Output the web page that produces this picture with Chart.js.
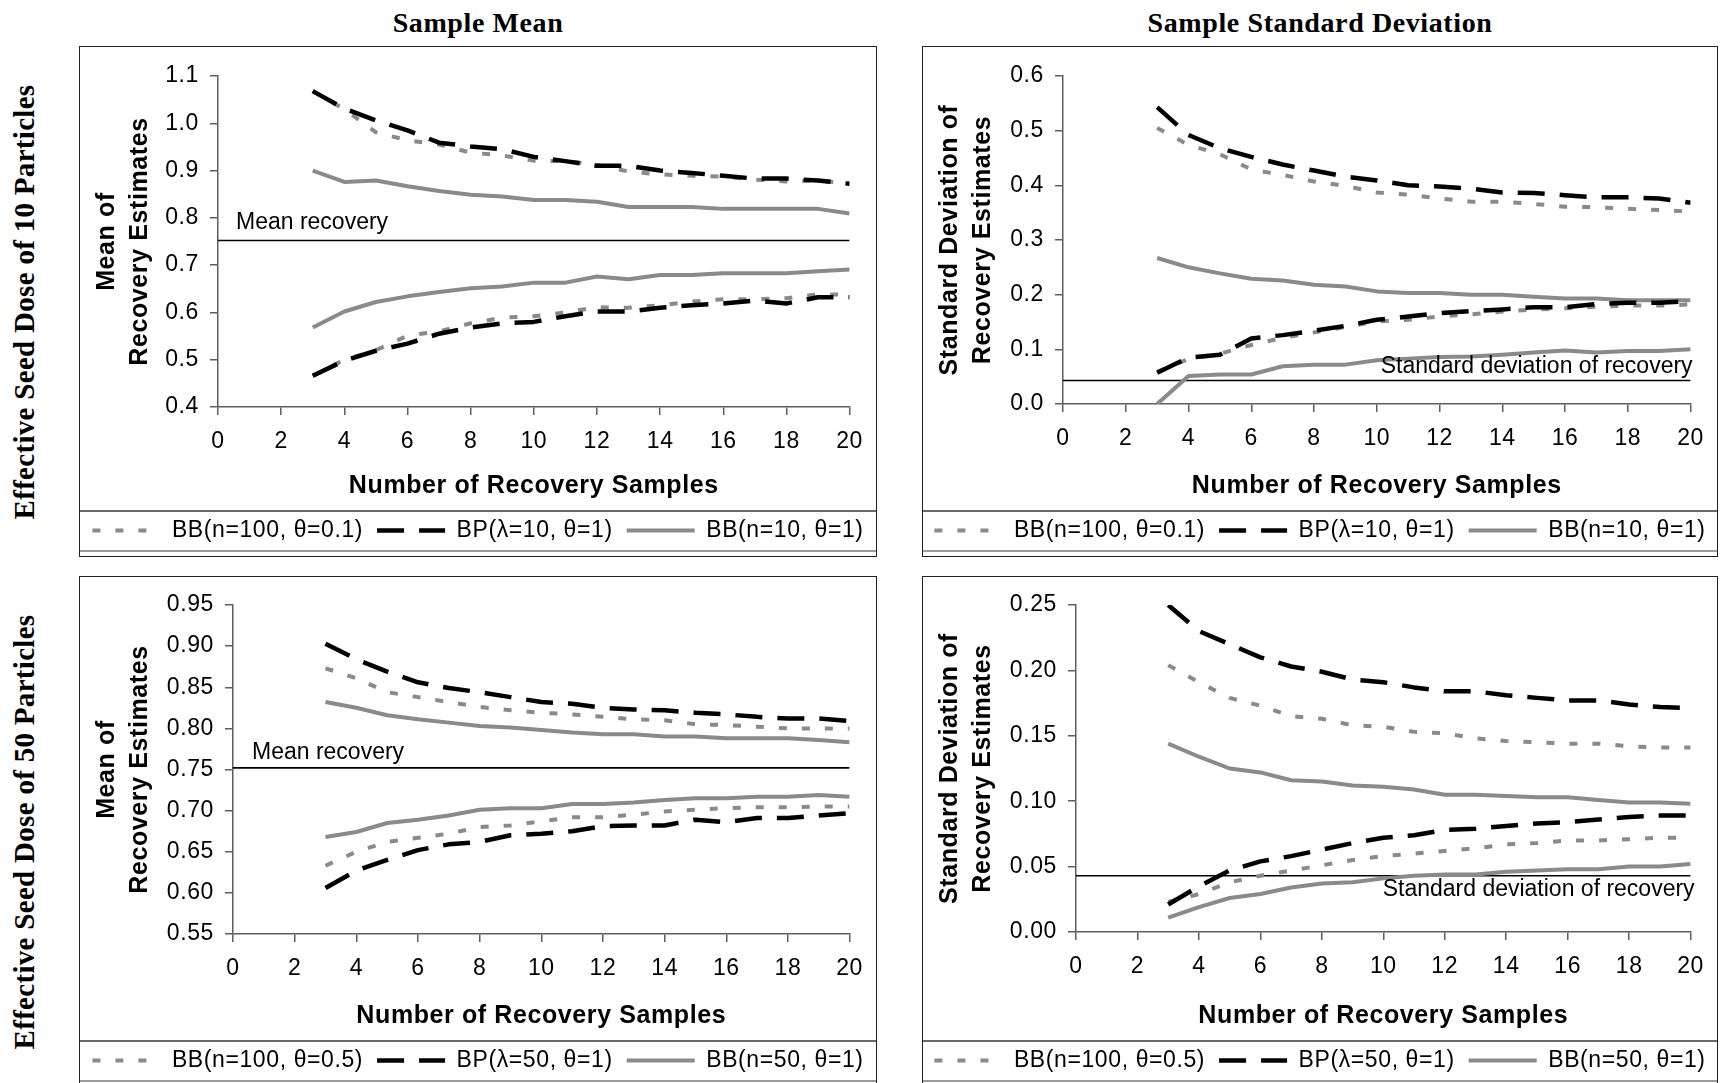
<!DOCTYPE html>
<html>
<head>
<meta charset="utf-8">
<script src="https://cdn.jsdelivr.net/npm/chart.js@4/dist/chart.umd.min.js"></script>
<style>
  html,body{margin:0;padding:0;background:#fff;}
  body{width:1723px;height:1083px;overflow:hidden;position:relative;font-family:"Liberation Sans",Arial,sans-serif;}
  .panel{position:absolute;border:1px solid #222;background:#fff;}
  .panel canvas{display:block;}
  .coltitle{position:absolute;top:7px;height:32px;line-height:32px;font:bold 28px "Liberation Serif","Times New Roman",serif;white-space:nowrap;transform:translateX(-50%);color:#000;letter-spacing:0.6px;}
  .rowtitle{position:absolute;font:bold 29px "Liberation Serif","Times New Roman",serif;white-space:nowrap;transform:translate(-50%,-50%) rotate(-90deg);color:#000;letter-spacing:0.3px;}
</style>
</head>
<body>
<div class="coltitle" style="left:478px">Sample Mean</div>
<div class="coltitle" style="left:1320px">Sample Standard Deviation</div>
<div class="rowtitle" style="left:24px;top:302px">Effective Seed Dose of 10 Particles</div>
<div class="rowtitle" style="left:24px;top:832px">Effective Seed Dose of 50 Particles</div>

<div class="panel" style="left:79px;top:46px;width:796px;height:509px"><canvas id="p1" width="796" height="509"></canvas></div>
<div class="panel" style="left:922px;top:46px;width:794px;height:509px"><canvas id="p2" width="794" height="509"></canvas></div>
<div class="panel" style="left:79px;top:576px;width:796px;height:509px"><canvas id="p3" width="796" height="509"></canvas></div>
<div class="panel" style="left:922px;top:576px;width:794px;height:509px"><canvas id="p4" width="794" height="509"></canvas></div>

<script>
// ---------- DATA ----------
const xs = [3,4,5,6,7,8,9,10,11,12,13,14,15,16,17,18,19,20];
const refXs = [0, 20];
const meanRecovery = 0.752;
const sdRecovery = 0.043;

const legend10 = ['BB(n=100, \u03b8=0.1)', 'BP(\u03bb=10, \u03b8=1)', 'BB(n=10, \u03b8=1)'];
const legend50 = ['BB(n=100, \u03b8=0.5)', 'BP(\u03bb=50, \u03b8=1)', 'BB(n=50, \u03b8=1)'];

// Mean, 10 particles
const m10_bbA_hi = [1.068,1.030,0.981,0.964,0.955,0.938,0.932,0.921,0.920,0.912,0.898,0.892,0.889,0.887,0.881,0.877,0.879,0.872];
const m10_bp_hi  = [1.068,1.031,1.006,0.985,0.959,0.951,0.945,0.929,0.920,0.910,0.910,0.900,0.895,0.889,0.883,0.883,0.879,0.872];
const m10_bbB_hi = [0.900,0.876,0.879,0.867,0.857,0.849,0.845,0.838,0.838,0.834,0.823,0.823,0.823,0.819,0.819,0.819,0.819,0.809];
const m10_bbA_lo = [0.466,0.500,0.520,0.551,0.560,0.577,0.589,0.592,0.600,0.611,0.610,0.615,0.623,0.628,0.628,0.630,0.638,0.638];
const m10_bp_lo  = [0.466,0.498,0.519,0.534,0.555,0.568,0.577,0.580,0.592,0.602,0.602,0.610,0.615,0.619,0.625,0.619,0.632,0.632];
const m10_bbB_lo = [0.568,0.602,0.622,0.634,0.643,0.651,0.655,0.663,0.663,0.676,0.670,0.679,0.679,0.683,0.683,0.683,0.687,0.691];

// SD, 10 particles
const s10_bbA_hi = [0.505,0.474,0.457,0.429,0.419,0.407,0.399,0.387,0.383,0.376,0.370,0.370,0.366,0.361,0.360,0.357,0.355,0.352];
const s10_bp_hi  = [0.543,0.492,0.468,0.452,0.438,0.427,0.416,0.409,0.400,0.398,0.394,0.387,0.386,0.382,0.378,0.378,0.376,0.368];
const s10_bbB_hi = [0.267,0.250,0.239,0.229,0.226,0.218,0.215,0.206,0.203,0.203,0.200,0.200,0.196,0.193,0.193,0.190,0.190,0.190];
const s10_bbA_lo = [0.059,0.082,0.092,0.108,0.121,0.131,0.141,0.151,0.154,0.160,0.164,0.169,0.173,0.175,0.178,0.180,0.180,0.182];
const s10_bp_lo  = [0.057,0.085,0.090,0.120,0.126,0.134,0.143,0.154,0.160,0.166,0.170,0.173,0.177,0.177,0.183,0.185,0.185,0.188];
const s10_bbB_lo = [0.000,0.051,0.054,0.054,0.069,0.072,0.072,0.080,0.083,0.086,0.087,0.090,0.094,0.098,0.094,0.097,0.097,0.100];

// Mean, 50 particles
const m50_bbA_hi = [0.873,0.861,0.844,0.838,0.832,0.826,0.822,0.819,0.817,0.814,0.811,0.810,0.805,0.804,0.802,0.800,0.800,0.800];
const m50_bp_hi  = [0.903,0.884,0.869,0.856,0.849,0.844,0.838,0.832,0.830,0.825,0.823,0.822,0.819,0.817,0.814,0.812,0.812,0.809];
const m50_bbB_hi = [0.832,0.825,0.816,0.811,0.807,0.803,0.801,0.798,0.795,0.793,0.793,0.790,0.790,0.788,0.788,0.788,0.786,0.783];
const m50_bbA_lo = [0.633,0.650,0.662,0.667,0.672,0.680,0.682,0.687,0.692,0.692,0.695,0.699,0.701,0.703,0.704,0.704,0.705,0.705];
const m50_bp_lo  = [0.606,0.627,0.640,0.652,0.659,0.662,0.670,0.672,0.675,0.681,0.682,0.682,0.689,0.686,0.691,0.691,0.694,0.697];
const m50_bbB_lo = [0.668,0.674,0.685,0.689,0.694,0.701,0.703,0.703,0.708,0.708,0.710,0.713,0.715,0.715,0.717,0.717,0.719,0.717];

// SD, 50 particles
const s50_bbA_hi = [0.204,0.191,0.179,0.173,0.165,0.163,0.158,0.157,0.153,0.152,0.148,0.146,0.145,0.144,0.144,0.142,0.141,0.141];
const s50_bp_hi  = [0.250,0.230,0.220,0.210,0.203,0.199,0.193,0.191,0.187,0.184,0.184,0.181,0.179,0.177,0.177,0.174,0.172,0.171];
const s50_bbB_hi = [0.144,0.134,0.125,0.122,0.116,0.115,0.112,0.111,0.109,0.105,0.105,0.104,0.103,0.103,0.101,0.099,0.099,0.098];
const s50_bbA_lo = [0.023,0.029,0.038,0.043,0.047,0.051,0.055,0.058,0.060,0.062,0.064,0.067,0.068,0.070,0.070,0.071,0.072,0.072];
const s50_bp_lo  = [0.021,0.035,0.047,0.054,0.058,0.063,0.068,0.072,0.074,0.078,0.079,0.081,0.083,0.084,0.086,0.088,0.089,0.089];
const s50_bbB_lo = [0.011,0.019,0.026,0.029,0.034,0.037,0.038,0.041,0.043,0.044,0.044,0.046,0.047,0.048,0.048,0.050,0.050,0.052];

// axis ranges [min, max, step]
const yMean10 = [0.4, 1.1, 0.1];
const ySd10   = [0.0, 0.6, 0.1];
const yMean50 = [0.55, 0.95, 0.05];
const ySd50   = [0.0, 0.25, 0.05];
const xRange  = [0, 20, 2];

// ---------- STYLE / LAYOUT ----------
const SANS = '"Liberation Sans", Arial, sans-serif';
const AXIS_COLOR = '#5e5e5e';
const LETTER_SPACING = '0.6px';
const styles = [
  {borderColor:'#8a8a8a', borderWidth:4,   borderDash:[8,15], order:1},
  {borderColor:'#000000', borderWidth:4.5, borderDash:[27,15], order:0},
  {borderColor:'#8a8a8a', borderWidth:4,   borderDash:[], order:2}
];

const panels = [
  {id:'p1', legend:legend10, hi:[m10_bbA_hi,m10_bp_hi,m10_bbB_hi], lo:[m10_bbA_lo,m10_bp_lo,m10_bbB_lo],
   ref:meanRecovery, yr:yMean10, dec:1, yTitle:['Mean of','Recovery Estimates'],
   refText:'Mean recovery', align:'left', dx:18, dy:-18, yW:138, padR:23, padT:29, xH:98},
  {id:'p2', legend:legend10, hi:[s10_bbA_hi,s10_bp_hi,s10_bbB_hi], lo:[s10_bbA_lo,s10_bp_lo,s10_bbB_lo],
   ref:sdRecovery, yr:ySd10, dec:1, yTitle:['Standard Deviation of','Recovery Estimates'],
   refText:'Standard deviation of recovery', align:'right', dx:2, dy:-14, yW:140, padR:22, padT:29, xH:101},
  {id:'p3', legend:legend50, hi:[m50_bbA_hi,m50_bp_hi,m50_bbB_hi], lo:[m50_bbA_lo,m50_bp_lo,m50_bbB_lo],
   ref:meanRecovery, yr:yMean50, dec:2, yTitle:['Mean of','Recovery Estimates'],
   refText:'Mean recovery', align:'left', dx:19, dy:-15, yW:153, padR:24, padT:28, xH:101},
  {id:'p4', legend:legend50, hi:[s50_bbA_hi,s50_bp_hi,s50_bbB_hi], lo:[s50_bbA_lo,s50_bp_lo,s50_bbB_lo],
   ref:sdRecovery, yr:ySd50, dec:2, yTitle:['Standard Deviation of','Recovery Estimates'],
   refText:'Standard deviation of recovery', align:'right', dx:4, dy:14, yW:153, padR:22, padT:28, xH:103}
];

const spacing = {
  id:'spacing',
  beforeInit(chart) { chart.ctx.letterSpacing = LETTER_SPACING; },
  beforeLayout(chart) { chart.ctx.letterSpacing = LETTER_SPACING; },
  beforeDraw(chart) { chart.ctx.letterSpacing = LETTER_SPACING; }
};

// keep the legend on one row and centre it on the whole panel
const legendFit = {
  id:'legendFit',
  afterInit(chart) {
    const lg = chart.legend;
    if (!lg || lg._oneRow) return;
    const orig = lg._fitRows;
    lg._fitRows = function() {
      const mw = this.maxWidth;
      this.maxWidth = mw + 120;
      const r = orig.apply(this, arguments);
      this.maxWidth = mw;
      return r;
    };
    lg._oneRow = true;
  },
  afterLayout(chart) {
    chart.legend.left = -14;
    chart.legend.right = chart.width + 14;
  }
};

const decor = {
  id:'decor',
  afterDatasetsDraw(chart, args, o) {
    const {ctx, chartArea, scales} = chart;
    const y = scales.y.getPixelForValue(o.refValue);
    const x = o.align === 'left' ? chartArea.left + o.dx : chartArea.right + o.dx;
    ctx.save();
    ctx.letterSpacing = '0px';
    ctx.font = '23px ' + SANS;
    ctx.fillStyle = '#000';
    ctx.textBaseline = 'middle';
    ctx.textAlign = o.align;
    ctx.fillText(o.text, x, y + o.dy);
    ctx.restore();
  },
  afterDraw(chart) {
    const {ctx, legend, width} = chart;
    ctx.save();
    ctx.strokeStyle = '#6a6a6a';
    ctx.lineWidth = 2;
    ctx.beginPath(); ctx.moveTo(0, legend.top + 6); ctx.lineTo(width, legend.top + 6); ctx.stroke();
    ctx.lineWidth = 1.5;
    ctx.strokeStyle = '#7a7a7a';
    ctx.beginPath(); ctx.moveTo(0, legend.top + 46); ctx.lineTo(width, legend.top + 46); ctx.stroke();
    ctx.restore();
  }
};

function pts(vals) { return vals.map((v, i) => ({x: xs[i], y: v})); }

panels.forEach(p => {
  const datasets = [];
  p.hi.forEach((vals, k) => datasets.push(Object.assign({label:p.legend[k], data:pts(vals)}, styles[k])));
  p.lo.forEach((vals, k) => datasets.push(Object.assign({label:p.legend[k], data:pts(vals)}, styles[k])));
  datasets.push({label:'ref', data:refXs.map(x => ({x:x, y:p.ref})), borderColor:'#000', borderWidth:1.6, borderDash:[], order:3});

  new Chart(document.getElementById(p.id), {
    type:'line',
    data:{datasets:datasets},
    plugins:[spacing, legendFit, decor],
    options:{
      responsive:false,
      animation:false,
      devicePixelRatio:1,
      layout:{padding:{top:p.padT, right:p.padR, left:0, bottom:4}},
      elements:{point:{radius:0}, line:{tension:0, fill:false, borderCapStyle:'butt', borderJoinStyle:'round'}},
      plugins:{
        tooltip:{enabled:false},
        decor:{refValue:p.ref, text:p.refText, align:p.align, dx:p.dx, dy:p.dy},
        legend:{
          position:'bottom',
          labels:{
            usePointStyle:true,
            pointStyle:'line',
            pointStyleWidth:68,
            padding:14,
            color:'#000',
            font:{family:SANS, size:23},
            generateLabels:(chart) => chart.data.datasets.slice(0,3).map((ds, i) => ({
              text:ds.label, fillStyle:ds.borderColor, strokeStyle:ds.borderColor,
              lineWidth:ds.borderWidth, lineDash:ds.borderDash, lineCap:'butt',
              pointStyle:'line', rotation:0, hidden:false, datasetIndex:i, fontColor:'#000'
            }))
          }
        }
      },
      scales:{
        x:{
          type:'linear', min:xRange[0], max:xRange[1],
          afterFit:(s) => { s.height = p.xH; },
          ticks:{stepSize:xRange[2], color:'#000', font:{family:SANS, size:23}, padding:13, maxRotation:0, autoSkip:false},
          grid:{drawOnChartArea:false, drawTicks:true, tickLength:8, color:AXIS_COLOR, lineWidth:1.5},
          border:{display:true, color:AXIS_COLOR, width:1.5},
          title:{display:true, text:'Number of Recovery Samples', color:'#000', font:{family:SANS, size:25, weight:'bold'}, padding:{top:0, bottom:4}}
        },
        y:{
          type:'linear', min:p.yr[0], max:p.yr[1],
          afterFit:(s) => { s.width = p.yW; },
          ticks:{stepSize:p.yr[2], color:'#000', font:{family:SANS, size:23}, padding:11,
                 callback:(v) => Number(v).toFixed(p.dec)},
          grid:{drawOnChartArea:false, drawTicks:true, tickLength:8, color:AXIS_COLOR, lineWidth:1.5},
          border:{display:true, color:AXIS_COLOR, width:1.5},
          title:{display:true, text:p.yTitle, color:'#000', font:{family:SANS, size:25, weight:'bold', lineHeight:1.33}, padding:{top:10, bottom:0}}
        }
      }
    }
  });
});
</script>
</body>
</html>
